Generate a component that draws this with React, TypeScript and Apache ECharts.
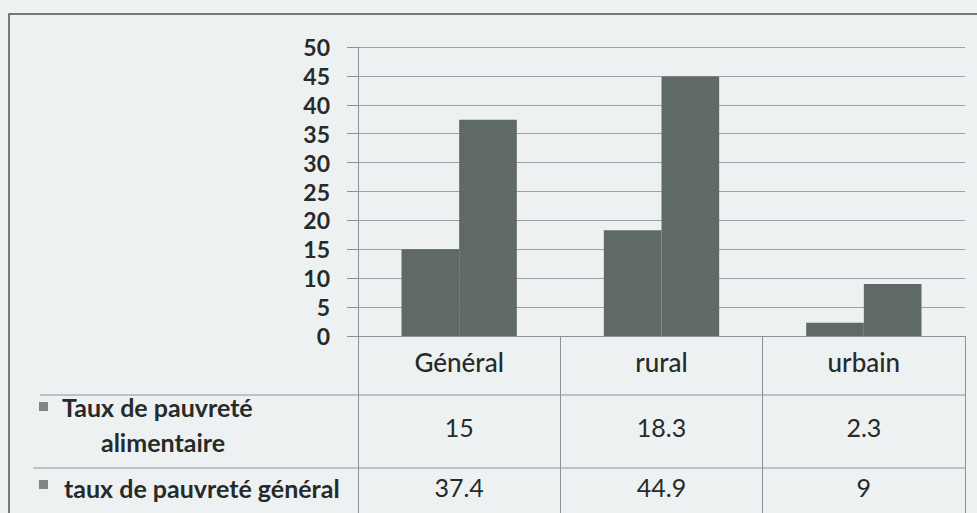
import React, { useEffect, useRef } from "react";
import * as echarts from "echarts";

const categories = ["Général", "rural", "urbain"];
const seriesNames = ["Taux de pauvreté alimentaire", "taux de pauvreté général"];
const foodPoverty = [15, 18.3, 2.3];
const generalPoverty = [37.4, 44.9, 9];
const yTicks = [0, 5, 10, 15, 20, 25, 30, 35, 40, 45, 50];

const FONT = "Lato, 'Open Sans', sans-serif";
const TEXT = "#262b2a";
const LINE = "#8c9296";
const BAR = "#5f6a66";

export default function App() {
  const ref = useRef<HTMLDivElement>(null);
  useEffect(() => {
    document.body.style.margin = "0";
    const chart = echarts.init(ref.current!, undefined, { renderer: "svg" });
    chart.setOption({
      animation: false,
      backgroundColor: "#eef1f2",
      grid: { left: 358, right: 12, top: 47, bottom: 177 },
      xAxis: {
        type: "category",
        data: categories,
        axisLine: { show: true, lineStyle: { color: LINE, width: 1 } },
        axisTick: { show: true, interval: 0, length: 177, lineStyle: { color: LINE, width: 1 } },
        axisLabel: {
          interval: 0,
          margin: 0,
          fontFamily: FONT,
          color: TEXT,
          formatter: (v: string, i: number) =>
            `{h|${v}}\n{a|${foodPoverty[i]}}\n{b|${generalPoverty[i]}}`,
          rich: {
            h: { fontFamily: FONT, fontSize: 26, color: TEXT, lineHeight: 52, fontWeight: 500 },
            a: { fontFamily: FONT, fontSize: 25, color: TEXT, lineHeight: 78 },
            b: { fontFamily: FONT, fontSize: 25, color: TEXT, lineHeight: 42 },
          },
        },
      },
      yAxis: {
        type: "value",
        min: 0,
        max: 50,
        interval: 5,
        axisLine: { show: true, lineStyle: { color: LINE, width: 1 } },
        axisTick: { show: true, length: 11, lineStyle: { color: LINE } },
        axisLabel: {
          margin: 28,
          fontFamily: FONT,
          fontSize: 23,
          fontWeight: "bold",
          color: TEXT,
          formatter: (v: number) => (yTicks.includes(v) ? String(v) : ""),
        },
        splitLine: { show: true, lineStyle: { color: "#9aa1a6", width: 1 } },
      },
      series: [
        {
          name: seriesNames[0],
          type: "bar",
          data: foodPoverty,
          barGap: "0%",
          barCategoryGap: "43%",
          itemStyle: { color: BAR },
        },
        {
          name: seriesNames[1],
          type: "bar",
          data: generalPoverty,
          barGap: "0%",
          barCategoryGap: "43%",
          itemStyle: { color: BAR },
        },
      ],
      graphic: [
        {
          type: "rect",
          shape: { x: 9, y: 14, width: 1000, height: 600 },
          style: { fill: "none", stroke: "#4d5253", lineWidth: 1.5 },
          silent: true,
        },
        {
          type: "line",
          shape: { x1: 40, y1: 395, x2: 965, y2: 395 },
          style: { stroke: LINE, lineWidth: 1 },
        },
        {
          type: "line",
          shape: { x1: 33, y1: 468, x2: 965, y2: 468 },
          style: { stroke: LINE, lineWidth: 1 },
        },
        {
          type: "rect",
          shape: { x: 39, y: 402, width: 9, height: 9 },
          style: { fill: "#7f8784" },
        },
        {
          type: "text",
          x: 62,
          y: 407,
          style: {
            text: "Taux de pauvreté",
            fontFamily: FONT,
            fontSize: 25,
            fontWeight: "bold",
            fill: TEXT,
            verticalAlign: "middle",
            align: "left",
          },
        },
        {
          type: "text",
          x: 163,
          y: 442,
          style: {
            text: "alimentaire",
            fontFamily: FONT,
            fontSize: 25,
            fontWeight: "bold",
            fill: TEXT,
            verticalAlign: "middle",
            align: "center",
          },
        },
        {
          type: "rect",
          shape: { x: 39, y: 480, width: 9, height: 9 },
          style: { fill: "#7f8784" },
        },
        {
          type: "text",
          x: 64,
          y: 488,
          style: {
            text: "taux de pauvreté général",
            fontFamily: FONT,
            fontSize: 25,
            fontWeight: "bold",
            fill: TEXT,
            verticalAlign: "middle",
            align: "left",
          },
        },
      ],
    });
    return () => chart.dispose();
  }, []);
  return <div ref={ref} style={{ width: 977, height: 513 }} />;
}
